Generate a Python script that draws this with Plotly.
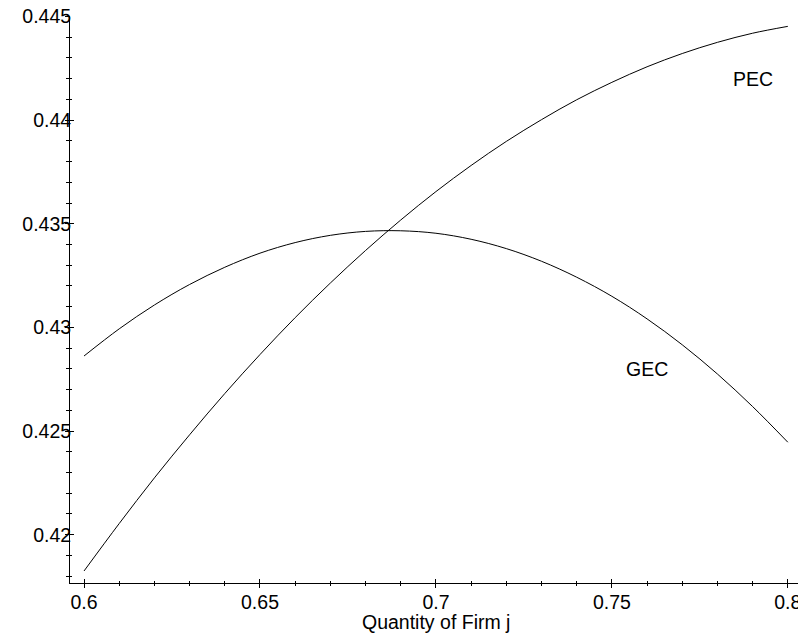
import plotly.graph_objects as go

# Quantity of firm j (x values)
quantity = [0.60, 0.61, 0.62, 0.63, 0.64, 0.65, 0.66, 0.67, 0.68, 0.69, 0.70,
            0.71, 0.72, 0.73, 0.74, 0.75, 0.76, 0.77, 0.78, 0.79, 0.80]

# PEC curve values
pec = [0.41825, 0.42054, 0.42274, 0.42482, 0.42681, 0.42869, 0.43047, 0.43214,
       0.43371, 0.43518, 0.43655, 0.43781, 0.43897, 0.44002, 0.44098, 0.44182,
       0.44257, 0.44321, 0.44375, 0.44419, 0.44452]

# GEC curve values
gec = [0.42862, 0.42993, 0.43108, 0.43207, 0.43290, 0.43358, 0.43409, 0.43444,
       0.43463, 0.43466, 0.43454, 0.43425, 0.43380, 0.43319, 0.43242, 0.43150,
       0.43041, 0.42916, 0.42775, 0.42618, 0.42446]

curve_labels = ["PEC", "GEC"]
label_x = [0.79, 0.76]
label_y = [0.4420, 0.4280]

x_title = "Quantity of Firm j"

x_range = [0.59601, 0.80403]
y_range = [0.41767, 0.44502]

FONT = "Liberation Sans, Arial, Helvetica, sans-serif"
FS = 19.5

fig = go.Figure()
fig.add_trace(go.Scatter(x=quantity, y=pec, mode="lines", line=dict(color="black", width=1, shape="spline"),
                         showlegend=False, hoverinfo="skip"))
fig.add_trace(go.Scatter(x=quantity, y=gec, mode="lines", line=dict(color="black", width=1, shape="spline"),
                         showlegend=False, hoverinfo="skip"))
# empty trace to activate overlay axes (for ticks crossing the axis line)
fig.add_trace(go.Scatter(x=[], y=[], xaxis="x2", yaxis="y2", showlegend=False))

for name, lx, ly in zip(curve_labels, label_x, label_y):
    fig.add_annotation(x=lx, y=ly, text=name, showarrow=False,
                       font=dict(family=FONT, size=FS, color="black"))

fig.add_annotation(x=0.5, y=0, xref="paper", yref="paper", xanchor="center", yanchor="top",
                   yshift=-26, text=x_title, showarrow=False,
                   font=dict(family=FONT, size=FS, color="black"))

common = dict(showgrid=False, zeroline=False, tickcolor="black", tickwidth=1, automargin=False)

fig.update_layout(
    width=806, height=636,
    margin=dict(l=62, r=12, t=8, b=61),
    paper_bgcolor="white", plot_bgcolor="white",
    font=dict(family=FONT, size=FS, color="black"),
    xaxis=dict(range=x_range, tick0=0.6, dtick=0.05, ticks="outside", ticklen=4,
               showline=True, linecolor="black", linewidth=1,
               minor=dict(dtick=0.01, ticks="outside", ticklen=2, tickcolor="black"),
               tickfont=dict(family=FONT, size=FS, color="black"),
               ticklabelstandoff=-2, ticklabeloverflow="allow",
               anchor="y", **common),
    yaxis=dict(range=y_range, tick0=0.42, dtick=0.005, ticks="outside", ticklen=4,
               showline=True, linecolor="black", linewidth=1,
               minor=dict(dtick=0.001, ticks="outside", ticklen=3, tickcolor="black"),
               tickfont=dict(family=FONT, size=FS, color="black"),
               ticklabelstandoff=-10, ticklabeloverflow="allow",
               anchor="x", **common),
    xaxis2=dict(range=x_range, overlaying="x", anchor="y", side="bottom",
                tick0=0.6, dtick=0.05, ticks="inside", ticklen=4, showticklabels=False,
                showline=False,
                minor=dict(dtick=0.01, ticks="inside", ticklen=2, tickcolor="black"),
                **common),
    yaxis2=dict(range=y_range, overlaying="y", anchor="x", side="left",
                tick0=0.42, dtick=0.005, ticks="inside", ticklen=4, showticklabels=False,
                showline=False,
                minor=dict(dtick=0.001, ticks="inside", ticklen=2, tickcolor="black"),
                **common),
)

fig.write_html("out.html")
